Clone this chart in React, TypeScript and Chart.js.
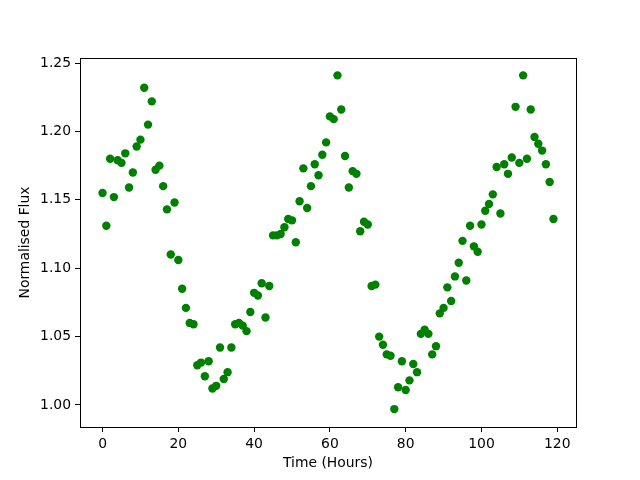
import React, { useEffect, useRef } from "react";
import { Chart, registerables } from "chart.js";

Chart.register(...registerables);

const hours = [
  0, 1, 2, 3, 4, 5, 6, 7, 8, 9, 10, 11, 12, 13, 14, 15, 16, 17, 18, 19,
  20, 21, 22, 23, 24, 25, 26, 27, 28, 29, 30, 31, 32, 33, 34, 35, 36, 37, 38, 39,
  40, 41, 42, 43, 44, 45, 46, 47, 48, 49, 50, 51, 52, 53, 54, 55, 56, 57, 58, 59,
  60, 61, 62, 63, 64, 65, 66, 67, 68, 69, 70, 71, 72, 73, 74, 75, 76, 77, 78, 79,
  80, 81, 82, 83, 84, 85, 86, 87, 88, 89, 90, 91, 92, 93, 94, 95, 96, 97, 98, 99,
  100, 101, 102, 103, 104, 105, 106, 107, 108, 109, 110, 111, 112, 113, 114, 115, 116, 117, 118, 119,
];

const flux = [
  1.155, 1.131, 1.180, 1.152, 1.179, 1.177, 1.184, 1.159, 1.170, 1.189,
  1.194, 1.232, 1.205, 1.222, 1.172, 1.175, 1.160, 1.143, 1.110, 1.148,
  1.106, 1.085, 1.071, 1.060, 1.059, 1.029, 1.031, 1.021, 1.032, 1.012,
  1.014, 1.042, 1.019, 1.024, 1.042, 1.059, 1.060, 1.058, 1.054, 1.068,
  1.082, 1.080, 1.089, 1.064, 1.087, 1.124, 1.124, 1.125, 1.130, 1.136,
  1.135, 1.119, 1.149, 1.173, 1.144, 1.160, 1.176, 1.168, 1.183, 1.192,
  1.211, 1.209, 1.241, 1.216, 1.182, 1.159, 1.171, 1.169, 1.127, 1.134,
  1.132, 1.087, 1.088, 1.050, 1.044, 1.037, 1.036, 0.997, 1.013, 1.032,
  1.011, 1.018, 1.030, 1.024, 1.052, 1.055, 1.052, 1.037, 1.043, 1.067,
  1.071, 1.086, 1.076, 1.094, 1.104, 1.120, 1.091, 1.131, 1.116, 1.112,
  1.132, 1.142, 1.147, 1.154, 1.174, 1.140, 1.176, 1.169, 1.181, 1.218,
  1.177, 1.241, 1.180, 1.216, 1.196, 1.191, 1.186, 1.176, 1.163, 1.136,
];

const xTicks = [0, 20, 40, 60, 80, 100, 120];
const yTicks = [1.0, 1.05, 1.1, 1.15, 1.2, 1.25];

const frame = {
  id: "frame",
  afterDraw(chart: any) {
    const { ctx, chartArea } = chart;
    ctx.save();
    ctx.strokeStyle = "#000";
    ctx.lineWidth = 1;
    ctx.strokeRect(
      Math.round(chartArea.left) + 0.5,
      Math.round(chartArea.top) + 0.5,
      Math.round(chartArea.right - chartArea.left),
      Math.round(chartArea.bottom - chartArea.top)
    );
    ctx.restore();
  },
};

export default function App() {
  const ref = useRef<HTMLCanvasElement>(null);
  useEffect(() => {
    if (!ref.current) return;
    Chart.defaults.font.family = "'DejaVu Sans', sans-serif";
    Chart.defaults.color = "#000";
    const chart = new Chart(ref.current, {
      type: "scatter",
      data: {
        datasets: [
          {
            data: hours.map((h, i) => ({ x: h, y: flux[i] })),
            backgroundColor: "#008000",
            borderColor: "#008000",
            borderWidth: 0,
            pointRadius: 4.2,
            pointHoverRadius: 4.2,
          },
        ],
      },
      options: {
        animation: false,
        responsive: false,
        events: [],
        layout: { padding: { left: 0, right: 64, top: 58, bottom: 0 } },
        plugins: { legend: { display: false }, tooltip: { enabled: false } },
        scales: {
          x: {
            type: "linear",
            min: -5.95,
            max: 124.95,
            afterFit: (s: any) => {
              s.height = 53;
            },
            afterBuildTicks: (s: any) => {
              s.ticks = xTicks.map((v) => ({ value: v }));
            },
            grid: {
              drawOnChartArea: false,
              drawTicks: true,
              tickLength: 5,
              color: "#000",
            },
            border: { display: false },
            ticks: {
              padding: 4,
              font: { size: 13.9 },
              color: "#000",
              maxRotation: 0,
              callback: (v: any) => String(v),
            },
            title: {
              display: true,
              text: "Time (Hours)",
              font: { size: 13.9 },
              color: "#000",
              padding: { top: 0, bottom: 8 },
            },
          },
          y: {
            type: "linear",
            min: 0.9839,
            max: 1.2537,
            afterFit: (s: any) => {
              s.width = 80;
            },
            afterBuildTicks: (s: any) => {
              s.ticks = yTicks.map((v) => ({ value: v }));
            },
            grid: {
              drawOnChartArea: false,
              drawTicks: true,
              tickLength: 5,
              color: "#000",
            },
            border: { display: false },
            ticks: {
              padding: 4,
              font: { size: 13.9 },
              color: "#000",
              callback: (v: any) => Number(v).toFixed(2),
            },
            title: {
              display: true,
              text: "Normalised Flux",
              font: { size: 13.9 },
              color: "#000",
              padding: { top: 17, bottom: 0 },
            },
          },
        },
      },
      plugins: [frame],
    });
    return () => chart.destroy();
  }, []);
  return (
    <div style={{ position: "fixed", left: 0, top: 0, width: 640, height: 480, background: "#fff" }}>
      <canvas ref={ref} width={640} height={480} style={{ width: 640, height: 480 }} />
    </div>
  );
}
